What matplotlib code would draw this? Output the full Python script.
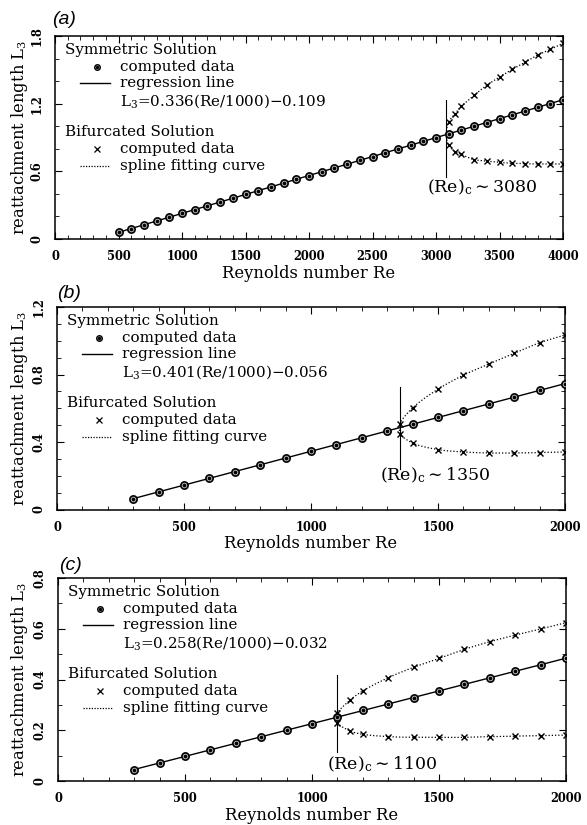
import numpy as np
import matplotlib
matplotlib.use("Agg")
import matplotlib.pyplot as plt

plt.rcParams["font.family"] = ["DejaVu Serif"]
plt.rcParams["mathtext.fontset"] = "dejavuserif"

# ---------------- data ----------------
# (a)
re_sym_a = list(range(500, 4001, 100))
L_sym_a = [0.059, 0.093, 0.126, 0.160, 0.193, 0.227, 0.261, 0.294, 0.328, 0.361,
           0.395, 0.429, 0.462, 0.496, 0.529, 0.563, 0.597, 0.630, 0.664, 0.697,
           0.731, 0.765, 0.798, 0.832, 0.865, 0.899, 0.933, 0.966, 1.000, 1.033,
           1.067, 1.101, 1.134, 1.168, 1.201, 1.235]
re_bif_a = [3100, 3150, 3200, 3300, 3400, 3500, 3600, 3700, 3800, 3900, 4000]
L_up_a = [1.037, 1.111, 1.176, 1.274, 1.363, 1.436, 1.504, 1.566, 1.631, 1.681, 1.735]
L_lo_a = [0.833, 0.774, 0.751, 0.703, 0.691, 0.680, 0.671, 0.668, 0.665, 0.665, 0.665]
slope_a, icpt_a = 0.336, -0.109
re_crit_a = 3080
crit_span_a = (0.552, 1.232)

# (b)
re_sym_b = list(range(300, 2001, 100))
L_sym_b = [0.064, 0.104, 0.145, 0.185, 0.225, 0.265, 0.305, 0.345, 0.385, 0.425,
           0.465, 0.505, 0.546, 0.586, 0.626, 0.666, 0.706, 0.746]
re_bif_b = [1350, 1400, 1500, 1600, 1700, 1800, 1900, 2000]
L_up_b = [0.509, 0.602, 0.713, 0.796, 0.862, 0.925, 0.988, 1.034]
L_lo_b = [0.450, 0.394, 0.355, 0.341, 0.335, 0.335, 0.337, 0.341]
slope_b, icpt_b = 0.401, -0.056
re_crit_b = 1350
crit_span_b = (0.242, 0.727)

# (c)
re_sym_c = list(range(300, 2001, 100))
L_sym_c = [0.045, 0.071, 0.097, 0.123, 0.149, 0.174, 0.200, 0.226, 0.252, 0.278,
           0.303, 0.329, 0.355, 0.381, 0.407, 0.432, 0.458, 0.484]
re_bif_c = [1100, 1150, 1200, 1300, 1400, 1500, 1600, 1700, 1800, 1900, 2000]
L_up_c = [0.267, 0.319, 0.355, 0.407, 0.448, 0.483, 0.519, 0.549, 0.575, 0.599, 0.624]
L_lo_c = [0.230, 0.197, 0.184, 0.175, 0.172, 0.172, 0.172, 0.175, 0.177, 0.179, 0.181]
slope_c, icpt_c = 0.258, -0.032
re_crit_c = 1100
crit_span_c = (0.116, 0.418)

panel_labels = ["(a)", "(b)", "(c)"]
x_label = "Reynolds number Re"
y_label = r"reattachment length L$_3$"


def catmull_rom(xs, ys, n=24):
    """Centripetal Catmull-Rom curve through the given points."""
    P = np.column_stack([xs, ys]).astype(float)
    P = np.vstack([2 * P[0] - P[1], P, 2 * P[-1] - P[-2]])
    out = []
    for i in range(1, len(P) - 2):
        p0, p1, p2, p3 = P[i - 1], P[i], P[i + 1], P[i + 2]
        t0 = 0.0
        t1 = t0 + np.linalg.norm(p1 - p0) ** 0.5
        t2 = t1 + np.linalg.norm(p2 - p1) ** 0.5
        t3 = t2 + np.linalg.norm(p3 - p2) ** 0.5
        t = np.linspace(t1, t2, n)[:, None]
        a1 = (t1 - t) / (t1 - t0) * p0 + (t - t0) / (t1 - t0) * p1
        a2 = (t2 - t) / (t2 - t1) * p1 + (t - t1) / (t2 - t1) * p2
        a3 = (t3 - t) / (t3 - t2) * p2 + (t - t2) / (t3 - t2) * p3
        b1 = (t2 - t) / (t2 - t0) * a1 + (t - t0) / (t2 - t0) * a2
        b2 = (t3 - t) / (t3 - t1) * a2 + (t - t1) / (t3 - t1) * a3
        c = (t2 - t) / (t2 - t1) * b1 + (t - t1) / (t2 - t1) * b2
        out.append(c if i == len(P) - 3 else c[:-1])
    C = np.vstack(out)
    return C[:, 0], C[:, 1]


FIG_W, FIG_H = 587, 825
fig = plt.figure(figsize=(FIG_W / 100, FIG_H / 100), dpi=100)

# axes boxes in pixels: left, top, right, bottom
boxes = [(55, 36, 563, 239), (57, 307, 565, 509.5), (58, 578, 566, 781)]
label_pos = [(52, 20), (57, 293), (59, 565)]

panels = [
    dict(re_sym=re_sym_a, L_sym=L_sym_a, re_bif=re_bif_a, up=L_up_a, lo=L_lo_a,
         slope=slope_a, icpt=icpt_a, rc=re_crit_a, span=crit_span_a,
         xmax=4000, ymax=1.8, ymaj=0.6, ymin=0.2, ylabels=["0", "0.6", "1.2", "1.8"],
         crit_text=r"(Re)$_{\rm c}$$\sim$3080", crit_xy=(2930, 0.41)),
    dict(re_sym=re_sym_b, L_sym=L_sym_b, re_bif=re_bif_b, up=L_up_b, lo=L_lo_b,
         slope=slope_b, icpt=icpt_b, rc=re_crit_b, span=crit_span_b,
         xmax=2000, ymax=1.2, ymaj=0.4, ymin=0.1, ylabels=["0", "0.4", "0.8", "1.2"],
         crit_text=r"(Re)$_{\rm c}$$\sim$1350", crit_xy=(1272, 0.175)),
    dict(re_sym=re_sym_c, L_sym=L_sym_c, re_bif=re_bif_c, up=L_up_c, lo=L_lo_c,
         slope=slope_c, icpt=icpt_c, rc=re_crit_c, span=crit_span_c,
         xmax=2000, ymax=0.8, ymaj=0.2, ymin=0.1, ylabels=["0", "0.2", "0.4", "0.6", "0.8"],
         crit_text=r"(Re)$_{\rm c}$$\sim$1100", crit_xy=(1059, 0.047)),
]

tick_font = dict(family="DejaVu Serif", weight="bold", size=8.3)
key_fs = 10.9

for k, (p, box) in enumerate(zip(panels, boxes)):
    l, t, r, b = box
    ax = fig.add_axes([l / FIG_W, 1 - b / FIG_H, (r - l) / FIG_W, (b - t) / FIG_H])
    aw, ah = r - l, b - t
    xmax, ymax = p["xmax"], p["ymax"]
    ax.set_xlim(0, xmax)
    ax.set_ylim(0, ymax)

    # regression line over the computed range
    re0, re1 = p["re_sym"][0], p["re_sym"][-1]
    ax.plot([re0, re1], [p["slope"] * re0 / 1000 + p["icpt"], p["slope"] * re1 / 1000 + p["icpt"]],
            color="black", lw=1.0, zorder=2)

    # spline through the bifurcated branches and the critical point
    Lc = p["slope"] * p["rc"] / 1000 + p["icpt"]
    bx = list(p["re_bif"][::-1]) + [p["rc"]] + list(p["re_bif"])
    by = list(p["lo"][::-1]) + [Lc] + list(p["up"])
    sx, sy = catmull_rom(np.array(bx) / xmax * aw, np.array(by) / ymax * ah)
    ax.plot(sx / aw * xmax, sy / ah * ymax, color="black", lw=0.9,
            linestyle=(0, (1.0, 1.6)), zorder=2)

    # critical Reynolds number marker
    ax.plot([p["rc"], p["rc"]], list(p["span"]), color="black", lw=0.8, zorder=2)
    ax.text(p["crit_xy"][0], p["crit_xy"][1], p["crit_text"], fontsize=12.5,
            ha="left", va="baseline")

    # computed data
    ax.plot(p["re_sym"], p["L_sym"], linestyle="none", marker="o", ms=5.2,
            mfc="#b8b8b8", mec="black", mew=1.2, zorder=3)
    ax.plot(p["re_sym"], p["L_sym"], linestyle="none", marker="o", ms=1.6,
            mfc="black", mec="black", zorder=4)
    for branch in (p["up"], p["lo"]):
        ax.plot(p["re_bif"], branch, linestyle="none", marker="x", ms=4.6,
                mec="black", mew=1.0, zorder=3)

    # ticks
    xmaj = np.arange(0, xmax + 1, 500)
    ax.set_xticks(xmaj)
    ax.set_xticks(np.arange(0, xmax + 1, 100), minor=True)
    ax.set_xticklabels([str(int(v)) for v in xmaj], fontdict=tick_font)
    ymaj = np.arange(len(p["ylabels"])) * p["ymaj"]
    ax.set_yticks(ymaj)
    ax.set_yticks(np.arange(0, ymax + 1e-9, p["ymin"]), minor=True)
    ax.set_yticklabels(p["ylabels"], fontdict=tick_font, rotation=90, va="center")
    ax.tick_params(which="both", direction="in", top=True, right=True, colors="black")
    ax.tick_params(which="major", length=5, width=0.8, pad=8)
    ax.tick_params(which="minor", length=2.6, width=0.6)
    for s in ax.spines.values():
        s.set_linewidth(1.1)

    ax.set_xlabel(x_label, fontsize=11.8)
    ax.xaxis.set_label_coords(0.5, -34 / ah)
    ax.xaxis.label.set_va("center")
    ax.set_ylabel(y_label, fontsize=11.8)
    ax.yaxis.set_label_coords(-(l - 20) / aw, 0.5)
    ax.yaxis.label.set_va("center")

    # key
    def at(dx, dy):
        return dx / aw, 1 - dy / ah
    ax.text(*at(10, 14), "Symmetric Solution", transform=ax.transAxes,
            fontsize=key_fs, va="center", ha="left")
    ax.plot(*[[v] for v in at(42, 31)], transform=ax.transAxes, marker="o", ms=4.0,
            mfc="#b8b8b8", mec="black", mew=1.0, linestyle="none", clip_on=False)
    ax.plot(*[[v] for v in at(42, 31)], transform=ax.transAxes, marker="o", ms=1.4,
            mfc="black", mec="black", linestyle="none", clip_on=False)
    ax.text(*at(65, 31), "computed data", transform=ax.transAxes,
            fontsize=key_fs, va="center", ha="left")
    x0, y0 = at(25, 47)
    x1, _ = at(55, 47)
    ax.plot([x0, x1], [y0, y0], transform=ax.transAxes, color="black", lw=1.0)
    ax.text(*at(65, 47), "regression line", transform=ax.transAxes,
            fontsize=key_fs, va="center", ha="left")
    ax.text(*at(65, 65),
            r"L$_3$=%.3f(Re/1000)$-$%.3f" % (p["slope"], -p["icpt"]),
            transform=ax.transAxes, fontsize=key_fs, va="center", ha="left")
    ax.text(*at(10, 96), "Bifurcated Solution", transform=ax.transAxes,
            fontsize=key_fs, va="center", ha="left")
    ax.plot(*[[v] for v in at(42, 113)], transform=ax.transAxes, marker="x", ms=3.8,
            mec="black", mew=0.9, linestyle="none", clip_on=False)
    ax.text(*at(65, 113), "computed data", transform=ax.transAxes,
            fontsize=key_fs, va="center", ha="left")
    x0, y0 = at(25, 130)
    x1, _ = at(55, 130)
    ax.plot([x0, x1], [y0, y0], transform=ax.transAxes, color="black", lw=0.9,
            linestyle=(0, (1.0, 1.2)))
    ax.text(*at(65, 130), "spline fitting curve", transform=ax.transAxes,
            fontsize=key_fs, va="center", ha="left")

    lx, ly = label_pos[k]
    fig.text(lx / FIG_W, 1 - ly / FIG_H, panel_labels[k], fontsize=14,
             family="Liberation Sans", style="italic", ha="left", va="center")

fig.savefig("out.png", dpi=100)
